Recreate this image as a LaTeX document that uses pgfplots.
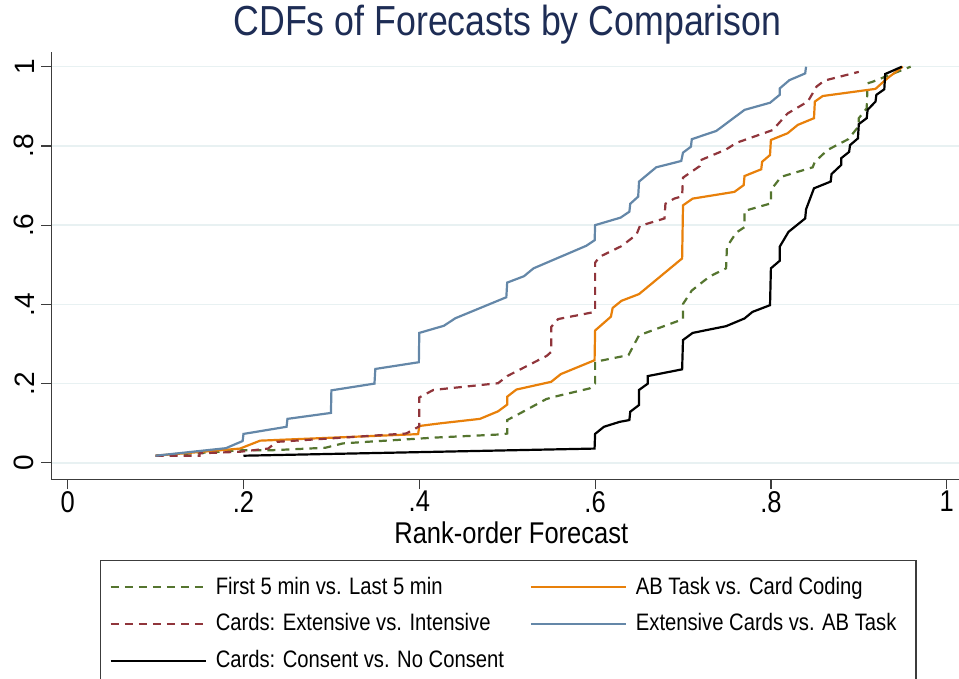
\documentclass[border=0pt]{standalone}
\usepackage{fontspec}
\setmainfont{Liberation Sans}[FakeStretch=0.85]
\newfontfamily\yfont{Liberation Sans}
\usepackage{pgfplots}
\pgfplotsset{compat=1.18}

\definecolor{sgreen}{RGB}{85,117,47}
\definecolor{smaroon}{RGB}{144,53,59}
\definecolor{sorange}{RGB}{232,128,10}
\definecolor{sblue}{RGB}{100,135,168}
\definecolor{stitle}{RGB}{30,45,85}
\definecolor{axisgray}{RGB}{60,60,60}
\definecolor{gridc}{RGB}{232,241,242}

\begin{document}
\begin{tikzpicture}
\begin{axis}[
  scale only axis, width=456pt, height=213.5pt,
  xmin=-0.0188, xmax=1.019, ymin=-0.0412, ymax=1.037,
  axis x line*=bottom, axis y line*=left,
  axis line style={draw=axisgray, line width=0.6pt, -},
  xtick={0,0.2,0.4,0.6,0.8,1}, xticklabels={0,.2,.4,.6,.8,1},
  ytick={0,0.2,0.4,0.6,0.8,1}, yticklabels={0,.2,.4,.6,.8,1},
  tick align=outside, major tick length=5pt,
  tick style={draw=axisgray, line width=0.6pt},
  ymajorgrids, grid style={draw=gridc, line width=0.8pt},
  xticklabel style={font=\fontsize{15}{15}\selectfont, yshift=2.5pt},
  yticklabel style={font=\yfont\fontsize{14}{14}\selectfont, rotate=90, anchor=south},
  xlabel={Rank-order Forecast},
  xlabel style={font=\fontsize{15}{15}\selectfont, at={(axis description cs:0.5044,-0.125)}, anchor=center},
  clip=false,
  every axis plot/.style={line width=1.1pt},
  legend columns=2,
  legend cell align=left,
  legend image code/.code={\path[draw=none] (0pt,0pt) -- (57.5pt,0pt); \draw[#1] (5pt,0pt) -- (52.5pt,0pt);},
  legend style={at={(0.0537,-0.1897)}, anchor=north west, draw=axisgray, line width=0.6pt,
    inner xsep=0pt, inner ysep=8pt, column sep=0pt, row sep=8.3pt,
    font=\fontsize{11.9}{14}\selectfont, nodes={inner sep=0pt}},
]
\addplot[sgreen, dash pattern=on 4pt off 3pt] coordinates {
(0.1,0.018) (0.2,0.032) (0.234,0.032) (0.293,0.038) (0.313,0.049) (0.340,0.053)
(0.42,0.064) (0.495,0.072) (0.5,0.074) (0.5,0.108) (0.5105,0.120) (0.5445,0.161)
(0.554,0.167) (0.594,0.188) (0.6,0.2005) (0.6,0.255) (0.638,0.272) (0.65,0.322)
(0.698,0.361) (0.7,0.362) (0.7,0.401) (0.71,0.435) (0.73,0.47) (0.749,0.491)
(0.75,0.5455) (0.7605,0.581) (0.77,0.595) (0.77,0.636) (0.8,0.655) (0.8,0.689)
(0.8116,0.722) (0.8475,0.746) (0.85,0.760) (0.8646,0.790) (0.888,0.817) (0.9,0.850)
(0.9,0.870) (0.909,0.895) (0.91,0.958) (0.9157,0.962) (0.935,0.979) (0.959,1.0)
};
\addlegendentry{\makebox[152.5pt][l]{First 5 min vs. Last 5 min}}
\addplot[sorange] coordinates {
(0.1,0.018) (0.196,0.036) (0.219,0.056) (0.3987,0.0725) (0.4,0.093) (0.423,0.0995)
(0.469,0.111) (0.4896,0.130) (0.5,0.147) (0.5,0.167) (0.5105,0.185) (0.55,0.2045)
(0.561,0.224) (0.5994,0.259) (0.6,0.334) (0.618,0.369) (0.62,0.391) (0.63,0.409)
(0.65,0.426) (0.699,0.516) (0.7,0.65) (0.711,0.667) (0.7585,0.684) (0.769,0.701)
(0.77,0.724) (0.789,0.741) (0.79,0.760) (0.799,0.777) (0.8,0.815) (0.819,0.832)
(0.8305,0.853) (0.849,0.870) (0.85,0.912) (0.859,0.926) (0.919,0.944) (0.927,0.960)
(0.935,0.975) (0.95,1.0)
};
\addlegendentry{\makebox[140pt][l]{AB Task vs. Card Coding}}
\addplot[smaroon, dash pattern=on 4pt off 3pt] coordinates {
(0.1,0.018) (0.15,0.018) (0.15,0.024) (0.196,0.028) (0.228,0.036) (0.238,0.053)
(0.385,0.074) (0.4,0.092) (0.4,0.165) (0.416,0.184) (0.4896,0.201) (0.5,0.219)
(0.545,0.270) (0.55,0.280) (0.55,0.343) (0.558,0.363) (0.5975,0.380) (0.6,0.383)
(0.6,0.505) (0.605,0.52) (0.63,0.547) (0.647,0.576) (0.651,0.598) (0.679,0.617)
(0.68,0.654) (0.69,0.667) (0.699,0.673) (0.7,0.72) (0.719,0.749) (0.72,0.764)
(0.749,0.791) (0.761,0.808) (0.802,0.840) (0.819,0.882) (0.842,0.912) (0.852,0.950)
(0.861,0.965) (0.9,0.987)
};
\addlegendentry{\makebox[152.5pt][l]{Cards: Extensive vs. Intensive}}
\addplot[sblue] coordinates {
(0.1,0.018) (0.18,0.037) (0.199,0.055) (0.2,0.073) (0.249,0.091) (0.25,0.111)
(0.2995,0.126) (0.3,0.183) (0.349,0.2) (0.35,0.237) (0.3995,0.254) (0.4,0.328)
(0.428,0.346) (0.441,0.365) (0.499,0.418) (0.5,0.455) (0.519,0.471) (0.530,0.491)
(0.590,0.548) (0.5995,0.562) (0.6,0.600) (0.629,0.619) (0.639,0.634) (0.64,0.654)
(0.649,0.672) (0.65,0.710) (0.6695,0.746) (0.698,0.762) (0.7,0.783) (0.709,0.798)
(0.71,0.817) (0.738,0.838) (0.770,0.891) (0.799,0.909) (0.81,0.929) (0.81,0.945)
(0.821,0.966) (0.839,0.983) (0.84,1.0)
};
\addlegendentry{\makebox[140pt][l]{Extensive Cards vs. AB Task}}
\addplot[black] coordinates {
(0.2,0.018) (0.5994,0.036) (0.6,0.073) (0.61,0.091) (0.628,0.1035) (0.639,0.108)
(0.64,0.129) (0.65,0.146) (0.65,0.184) (0.66,0.2) (0.66,0.219) (0.699,0.236)
(0.7,0.310) (0.711,0.328) (0.749,0.345) (0.770,0.3645) (0.779,0.381) (0.799,0.398)
(0.8,0.491) (0.81,0.51) (0.81,0.5455) (0.82,0.583) (0.839,0.617) (0.84,0.640)
(0.849,0.693) (0.868,0.710) (0.869,0.729) (0.88,0.752) (0.88,0.769) (0.889,0.785)
(0.89,0.802) (0.899,0.819) (0.9,0.855) (0.909,0.870) (0.91,0.891) (0.919,0.912)
(0.92,0.929) (0.929,0.943) (0.93,0.9815) (0.949,1.0)
};
\addlegendentry{\makebox[152.5pt][l]{Cards: Consent vs. No Consent}}
\node[font=\fontsize{21}{21}\selectfont, text=stitle] at (axis cs:0.5003,1.105) {CDFs of Forecasts by Comparison};
\coordinate (bbll) at (axis cs:-0.077,-0.5437);
\coordinate (bbur) at (axis cs:1.0140,1.1684);
\end{axis}
\pgfresetboundingbox
\useasboundingbox (bbll) rectangle (bbur);
\end{tikzpicture}
\end{document}
